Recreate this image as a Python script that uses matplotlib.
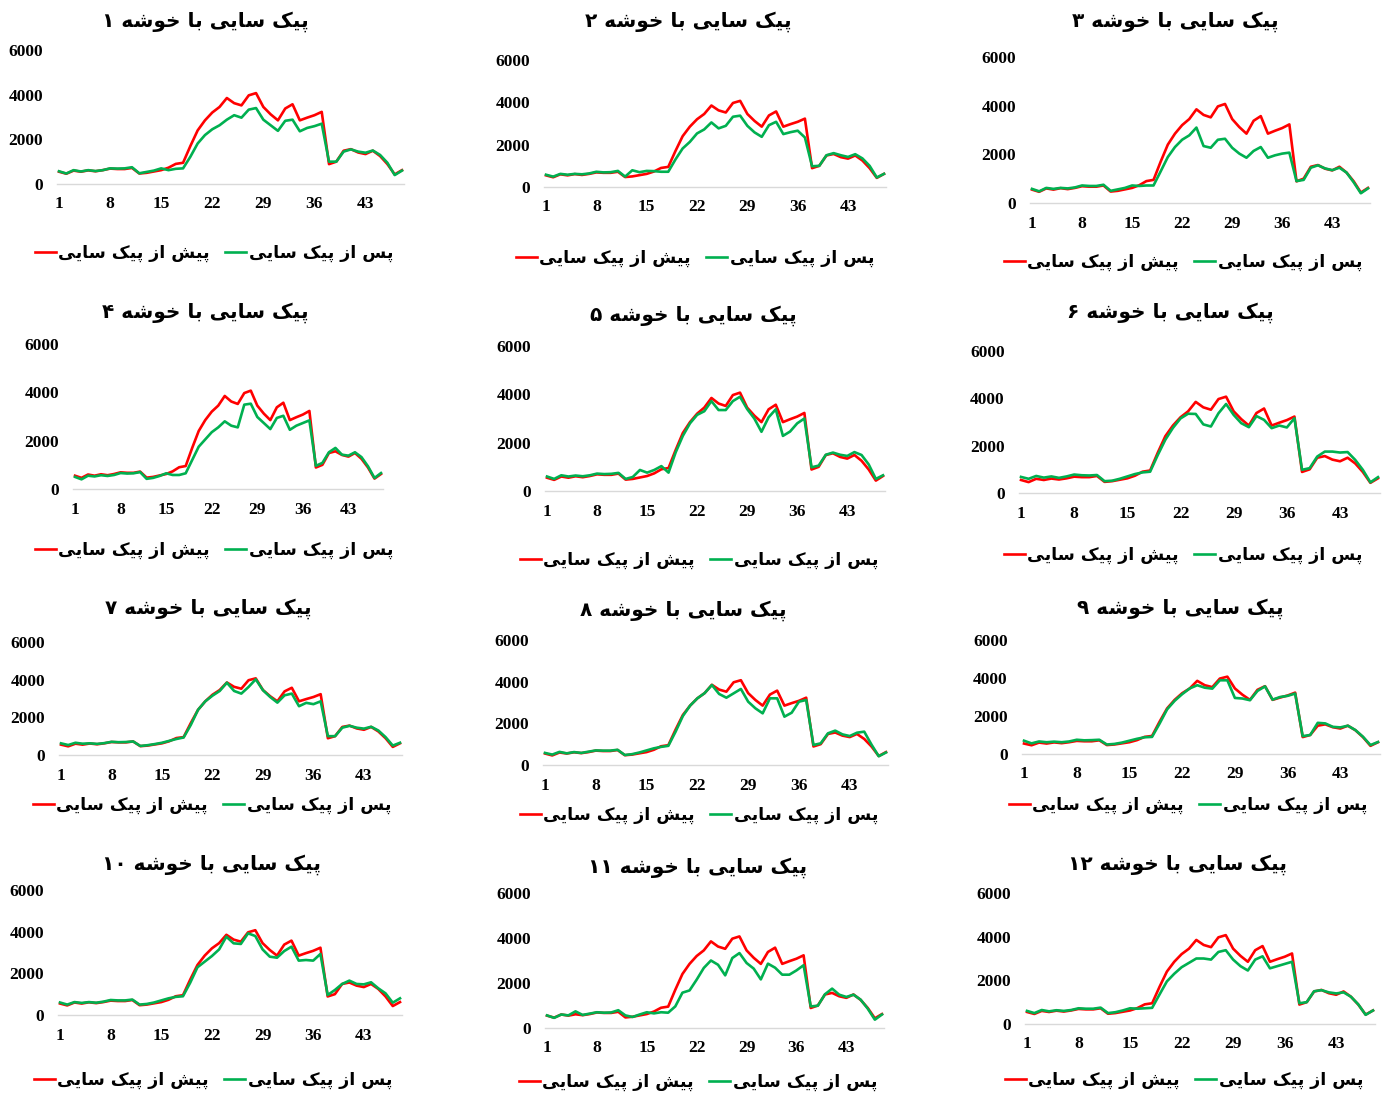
#!/usr/bin/env python3
"""
Peak shaving per cluster: load profile before / after, 12 small panels.
"""
import numpy as np
import matplotlib
matplotlib.use('Agg')
import matplotlib.pyplot as plt

# --- data ---
periods = np.arange(1, 49)

before = [550, 460, 600, 550, 610, 570, 620, 690, 670, 670, 720, 470, 500, 560, 620, 730,
          900, 950, 1700, 2400, 2850, 3200, 3450, 3850, 3620, 3520, 3970, 4070, 3450, 3120,
          2850, 3380, 3570, 2850, 2970, 3080, 3230, 890, 1000, 1490, 1560, 1410, 1340, 1490,
          1250, 890, 430, 620]

after_c1 = [570, 470, 620, 560, 620, 580, 620, 700, 690, 700, 750, 480, 540, 600, 700, 620,
            680, 700, 1220, 1815, 2190, 2450, 2630, 2880, 3080, 2970, 3330, 3400, 2880, 2630,
            2380, 2830, 2880, 2360, 2510, 2590, 2700, 1000, 1000, 1450, 1550, 1450, 1400, 1500,
            1300, 950, 400, 600]
after_c2 = [580, 490, 620, 580, 620, 600, 640, 720, 690, 700, 760, 490, 790, 700, 760, 750,
            720, 720, 1300, 1820, 2130, 2530, 2720, 3050, 2770, 2890, 3320, 3370, 2890, 2580,
            2370, 2920, 3080, 2500, 2590, 2660, 2340, 980, 1000, 1500, 1600, 1500, 1420, 1550,
            1350, 1000, 450, 620]
after_c3 = [580, 480, 620, 580, 620, 600, 640, 720, 700, 700, 750, 500, 560, 620, 720, 700,
            720, 720, 1300, 1890, 2300, 2600, 2780, 3100, 2340, 2270, 2600, 2640, 2270, 2030,
            1860, 2140, 2300, 1860, 1960, 2030, 2070, 900, 950, 1450, 1550, 1420, 1350, 1450,
            1250, 850, 400, 600]
after_c4 = [500, 400, 550, 520, 570, 540, 580, 660, 640, 650, 700, 420, 460, 540, 650, 580,
            580, 650, 1200, 1750, 2050, 2350, 2550, 2800, 2620, 2550, 3490, 3530, 2980, 2730,
            2480, 2940, 3030, 2450, 2620, 2730, 2840, 960, 1080, 1520, 1700, 1420, 1380, 1520,
            1320, 940, 455, 660]
after_c5 = [600, 500, 650, 600, 640, 610, 650, 720, 700, 710, 750, 500, 580, 870, 760, 870,
            1030, 760, 1600, 2280, 2800, 3150, 3300, 3720, 3350, 3350, 3720, 3900, 3390, 3000,
            2450, 3050, 3380, 2280, 2460, 2800, 3000, 980, 1050, 1500, 1590, 1500, 1450, 1610,
            1490, 1100, 500, 650]
after_c6 = [680, 600, 720, 650, 700, 640, 700, 780, 750, 740, 760, 500, 520, 600, 700, 800,
            870, 900, 1600, 2250, 2750, 3150, 3350, 3340, 2900, 2810, 3370, 3760, 3300, 2950,
            2780, 3250, 3090, 2740, 2850, 2770, 3160, 980, 1050, 1540, 1750, 1750, 1710, 1730,
            1400, 980, 450, 670]
after_c7 = [620, 530, 650, 600, 620, 590, 630, 700, 680, 690, 720, 480, 520, 580, 650, 750,
            850, 930, 1600, 2400, 2850, 3150, 3400, 3840, 3400, 3260, 3610, 4020, 3440, 3080,
            2780, 3170, 3260, 2590, 2770, 2700, 2850, 1000, 1000, 1450, 1550, 1450, 1400, 1500,
            1300, 950, 500, 650]
after_c8 = [580, 500, 630, 560, 620, 580, 640, 700, 690, 690, 730, 480, 520, 600, 700, 800,
            870, 920, 1600, 2350, 2850, 3200, 3450, 3840, 3410, 3230, 3440, 3650, 3040, 2720,
            2480, 3200, 3200, 2320, 2510, 3040, 3120, 960, 1040, 1520, 1650, 1470, 1390, 1550,
            1600, 980, 420, 600]
after_c9 = [700, 560, 660, 620, 650, 620, 660, 750, 720, 730, 750, 500, 530, 600, 700, 800,
            880, 900, 1600, 2350, 2800, 3150, 3450, 3620, 3490, 3440, 3880, 3880, 2950, 2920,
            2830, 3320, 3560, 2860, 3000, 3060, 3180, 940, 1000, 1640, 1610, 1430, 1400, 1490,
            1260, 910, 470, 630]
after_c10 = [600, 500, 620, 580, 620, 590, 640, 720, 700, 700, 740, 500, 530, 600, 700, 800,
             870, 900, 1550, 2290, 2560, 2830, 3150, 3760, 3440, 3410, 3920, 3790, 3150, 2800,
             2750, 3070, 3280, 2610, 2640, 2610, 2930, 960, 1200, 1490, 1650, 1490, 1470, 1570,
             1280, 1040, 590, 800]
after_c11 = [560, 450, 600, 560, 740, 580, 640, 700, 680, 690, 790, 560, 490, 600, 700, 650,
             700, 680, 960, 1570, 1670, 2150, 2670, 3000, 2810, 2340, 3110, 3330, 2890, 2640,
             2160, 2860, 2680, 2370, 2370, 2560, 2790, 960, 990, 1500, 1750, 1480, 1380, 1480,
             1260, 860, 370, 600]
after_c12 = [600, 500, 640, 580, 630, 600, 640, 720, 700, 700, 750, 500, 540, 620, 720, 700,
             720, 740, 1350, 1950, 2300, 2600, 2800, 3000, 3000, 2950, 3300, 3380, 2950, 2650,
             2450, 2950, 3100, 2550, 2650, 2750, 2850, 950, 1000, 1500, 1550, 1450, 1400, 1450,
             1250, 900, 420, 620]

after_series = [after_c1, after_c2, after_c3, after_c4, after_c5, after_c6,
                after_c7, after_c8, after_c9, after_c10, after_c11, after_c12]

title_text = "پیک سایی با خوشه"
label_before = "پیش از پیک سایی"
label_after = "پس از پیک سایی"
y_ticks = [0, 2000, 4000, 6000]
x_ticks = [1, 8, 15, 22, 29, 36, 43]

# --- layout in reference pixels: (x of point 1, x of point 48, y of 0, y of 6000) ---
W_PX, H_PX = 1389, 1097
panel_px = [
    (59, 402, 184, 50), (546, 884, 187, 60), (1032, 1368, 203, 57),
    (75, 381, 489, 344), (547, 883, 491, 346), (1021, 1378, 493, 351),
    (61, 400, 755, 642), (545, 886, 765, 640), (1024, 1378, 754, 640),
    (60, 400, 1015, 890), (547, 882, 1028, 893), (1027, 1373, 1024, 893),
]
title_px = [(205, 22), (688, 22), (1175, 22), (205, 313), (693, 316), (1170, 313),
            (208, 609), (683, 611), (1180, 609), (212, 865), (698, 868), (1178, 865)]
legend_px = [(214, 253), (695, 258), (1183, 262), (214, 550), (699, 560), (1183, 555),
             (212, 805), (699, 815), (1188, 805), (213, 1080), (698, 1082), (1184, 1080)]

RED = '#FF0000'
GREEN = '#00B050'
PAD = 0.3

# --- minimal Persian shaping (matplotlib draws glyphs left-to-right, unjoined) ---
# (isolated, final, initial, medial); right-joining letters have no initial/medial
FORMS = {
    'ا': ('\uFE8D', '\uFE8E', None, None),
    'ب': ('\uFE8F', '\uFE90', '\uFE91', '\uFE92'),
    'پ': ('\uFB56', '\uFB57', '\uFB58', '\uFB59'),
    'خ': ('\uFEA5', '\uFEA6', '\uFEA7', '\uFEA8'),
    'ز': ('\uFEAF', '\uFEB0', None, None),
    'س': ('\uFEB1', '\uFEB2', '\uFEB3', '\uFEB4'),
    'ش': ('\uFEB5', '\uFEB6', '\uFEB7', '\uFEB8'),
    'ک': ('\uFB8E', '\uFB8F', '\uFB90', '\uFB91'),
    'ه': ('\uFEE9', '\uFEEA', '\uFEEB', '\uFEEC'),
    'و': ('\uFEED', '\uFEEE', None, None),
    'ی': ('\uFBFC', '\uFBFD', '\uFBFE', '\uFBFF'),
}
FA_DIGITS = '۰۱۲۳۴۵۶۷۸۹'


def shape(text):
    out = []
    for i, ch in enumerate(text):
        if ch not in FORMS:
            out.append(ch)
            continue
        prev = text[i - 1] if i > 0 else None
        nxt = text[i + 1] if i < len(text) - 1 else None
        iso, fin, ini, med = FORMS[ch]
        jp = prev in FORMS and FORMS[prev][2] is not None
        jn = ini is not None and nxt in FORMS
        if jp and jn:
            out.append(med)
        elif jp:
            out.append(fin)
        elif jn:
            out.append(ini)
        else:
            out.append(iso)
    return ''.join(reversed(out))


def fa_num(n):
    return ''.join(FA_DIGITS[int(d)] for d in str(n))


def main():
    fig = plt.figure(figsize=(W_PX / 100, H_PX / 100), dpi=100)
    fa_font = dict(family=['DejaVu Sans'], fontweight='bold')
    num_font = dict(family=['Liberation Serif', 'DejaVu Serif'], fontweight='bold', fontsize=12.5)

    for k, after in enumerate(after_series):
        x1, x48, y0, y6 = panel_px[k]
        step = (x48 - x1) / 47
        left = (x1 - PAD * step) / W_PX
        width = (47 + 2 * PAD) * step / W_PX
        bottom = 1 - y0 / H_PX
        height = (y0 - y6) / H_PX
        ax = fig.add_axes([left, bottom, width, height])

        l1, = ax.plot(periods, before, color=RED, lw=1.9, solid_joinstyle='round')
        l2, = ax.plot(periods, after, color=GREEN, lw=1.9, solid_joinstyle='round')

        ax.set_xlim(1 - PAD, 48 + PAD)
        ax.set_ylim(0, 6000)
        ax.set_xticks(x_ticks)
        ax.set_yticks(y_ticks)
        ax.set_xticklabels([str(t) for t in x_ticks], **num_font)
        ax.set_yticklabels([str(t) for t in y_ticks], **num_font)
        ax.tick_params(length=0, pad=10)
        ax.tick_params(axis='x', pad=9)
        for side in ['top', 'right', 'left']:
            ax.spines[side].set_visible(False)
        ax.spines['bottom'].set_color('#D9D9D9')
        ax.spines['bottom'].set_linewidth(1.0)
        ax.patch.set_alpha(0)

        tx, ty = title_px[k]
        fig.text(tx / W_PX, 1 - ty / H_PX, fa_num(k + 1) + ' ' + shape(title_text),
                 ha='center', va='center', fontsize=14.5, **fa_font)

        lx, ly = legend_px[k]
        fig.legend([l1, l2], [shape(label_before), shape(label_after)],
                   loc='center', bbox_to_anchor=(lx / W_PX, 1 - ly / H_PX),
                   ncol=2, frameon=False, handlelength=1.2, handletextpad=0.15,
                   columnspacing=0.9, borderpad=0,
                   prop=dict(family='DejaVu Sans', weight='bold', size=12.5))

    fig.savefig('out.png', dpi=100)


if __name__ == "__main__":
    main()
